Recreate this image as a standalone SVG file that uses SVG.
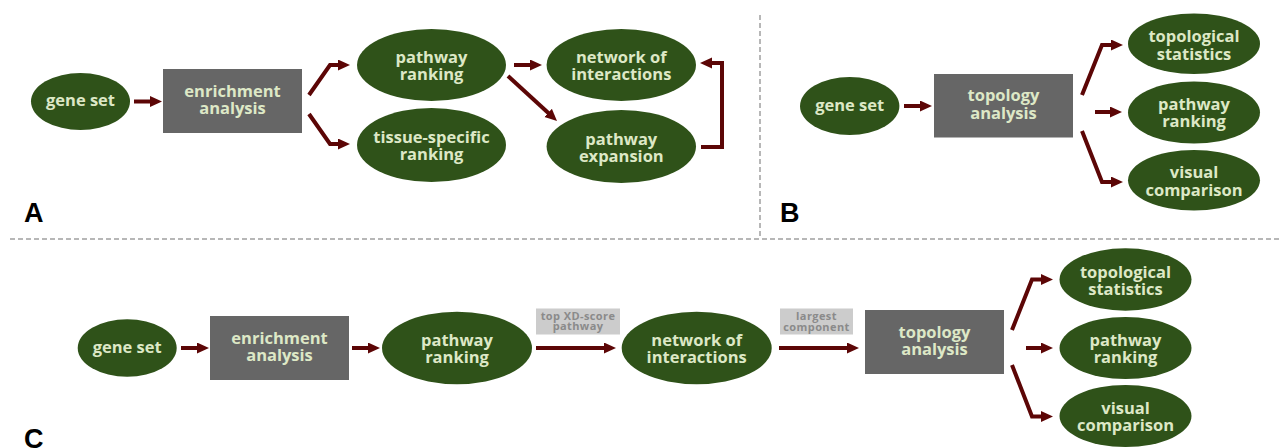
<svg xmlns="http://www.w3.org/2000/svg" width="1282" height="448" viewBox="0 0 1282 448">
<defs>
<marker id="ah" markerUnits="userSpaceOnUse" markerWidth="14" markerHeight="12" refX="1" refY="5.5" orient="auto">
<path d="M0,0 L12,5.5 L0,11 Z" fill="#5c0606"/>
</marker>
<style>
.el{fill:#2f5219}
.bx{fill:#666666}
.t{font-family:"Open Sans","Noto Sans",sans-serif;font-weight:700;font-size:16.5px;fill:#dde8c6;text-anchor:middle}
.lb{fill:#cccccc}
.lt{font-family:"Open Sans","Noto Sans",sans-serif;font-weight:700;font-size:11px;letter-spacing:0.4px;fill:#8a8a8a;text-anchor:middle}
.c{fill:none;stroke:#5c0606;stroke-width:4;marker-end:url(#ah)}
.sep{fill:none;stroke:#a0a0a0;stroke-width:1.5;stroke-dasharray:5,3}
.pl{font-family:"Liberation Sans",Arial,sans-serif;font-weight:700;font-size:27px;fill:#000}
</style>
</defs>
<rect width="1282" height="448" fill="#ffffff"/>
<g id="separators">
<path class="sep" d="M10,239 H1280"/>
<path class="sep" d="M760,15 V239"/>
</g>
<g id="panel-labels">
<text class="pl" x="24" y="222">A</text>
<text class="pl" x="780" y="222">B</text>
<text class="pl" x="24" y="448">C</text>
</g>
<g id="connectors">
<path class="c" d="M134,101.5 H151"/>
<path class="c" d="M309,95 L330,65 H339"/>
<path class="c" d="M309,114 L330,144 H339"/>
<path class="c" d="M514,65 H531"/>
<path class="c" d="M508,76 L548.9,113.5"/>
<path class="c" d="M701,147 H722 V63 H711"/>
<path class="c" d="M904,106 H921"/>
<path class="c" d="M1082,95 L1102,45 H1112"/>
<path class="c" d="M1095,112 H1111"/>
<path class="c" d="M1082,131 L1102,182 H1112"/>
<path class="c" d="M181,348 H198"/>
<path class="c" d="M352,348 H369"/>
<path class="c" d="M536,348 H605"/>
<path class="c" d="M779,348 H848"/>
<path class="c" d="M1012,330 L1032,279.5 H1042"/>
<path class="c" d="M1026,348 H1042"/>
<path class="c" d="M1012,365 L1032,416.5 H1042"/>
</g>
<g id="edge-labels">
<g id="label-top-xd">
<rect class="lb" x="536" y="308.5" width="84" height="26"/>
<text class="lt" x="578" y="319.5">top XD-score</text>
<text class="lt" x="578" y="330">pathway</text>
</g>
<g id="label-largest">
<rect class="lb" x="780" y="308.5" width="73" height="26"/>
<text class="lt" x="816.5" y="319.5">largest</text>
<text class="lt" x="816.5" y="330.5">component</text>
</g>
</g>
<g id="A-gene-set"><ellipse class="el" cx="80.5" cy="101.5" rx="49.5" ry="28.5"/><text class="t" x="80.5" y="106">gene set</text></g>
<g id="A-enrichment"><rect class="bx" x="163" y="69" width="139" height="64"/><text class="t" x="232.5" y="96.5">enrichment</text><text class="t" x="232.5" y="114">analysis</text></g>
<g id="A-pathway-ranking"><ellipse class="el" cx="431.5" cy="65" rx="74.5" ry="36"/><text class="t" x="431.5" y="62.5">pathway</text><text class="t" x="431.5" y="79.5">ranking</text></g>
<g id="A-tissue"><ellipse class="el" cx="431.5" cy="145" rx="74.5" ry="37"/><text class="t" x="431.5" y="142.5">tissue-specific</text><text class="t" x="431.5" y="159.5">ranking</text></g>
<g id="A-network"><ellipse class="el" cx="621.3" cy="65" rx="74.7" ry="36"/><text class="t" x="621.3" y="62.5">network of</text><text class="t" x="621.3" y="80">interactions</text></g>
<g id="A-expansion"><ellipse class="el" cx="621.3" cy="146.5" rx="74.7" ry="36.5"/><text class="t" x="621.3" y="144.5">pathway</text><text class="t" x="621.3" y="162">expansion</text></g>
<g id="B-gene-set"><ellipse class="el" cx="849.7" cy="106" rx="49.7" ry="29"/><text class="t" x="849.7" y="110.5">gene set</text></g>
<g id="B-topology"><rect class="bx" x="934" y="74" width="139" height="63.5"/><text class="t" x="1003.5" y="101">topology</text><text class="t" x="1003.5" y="118.5">analysis</text></g>
<g id="B-topo-stats"><ellipse class="el" cx="1194" cy="43.7" rx="66" ry="30.3"/><text class="t" x="1194" y="42">topological</text><text class="t" x="1194" y="59.5">statistics</text></g>
<g id="B-pathway-ranking"><ellipse class="el" cx="1194" cy="112.5" rx="66" ry="31"/><text class="t" x="1194" y="110">pathway</text><text class="t" x="1194" y="127">ranking</text></g>
<g id="B-visual"><ellipse class="el" cx="1194" cy="180.3" rx="66" ry="30.3"/><text class="t" x="1194" y="178">visual</text><text class="t" x="1194" y="195.5">comparison</text></g>
<g id="C-gene-set"><ellipse class="el" cx="127.2" cy="348" rx="49.5" ry="28.7"/><text class="t" x="127.2" y="352.5">gene set</text></g>
<g id="C-enrichment"><rect class="bx" x="210" y="316" width="139" height="64"/><text class="t" x="279.5" y="343.5">enrichment</text><text class="t" x="279.5" y="361">analysis</text></g>
<g id="C-pathway-ranking"><ellipse class="el" cx="457" cy="348" rx="75" ry="36.2"/><text class="t" x="457" y="345.5">pathway</text><text class="t" x="457" y="362.5">ranking</text></g>
<g id="C-network"><ellipse class="el" cx="696.7" cy="348" rx="75" ry="36.2"/><text class="t" x="696.7" y="345.5">network of</text><text class="t" x="696.7" y="363">interactions</text></g>
<g id="C-topology"><rect class="bx" x="865" y="310" width="139" height="64"/><text class="t" x="934.5" y="337.5">topology</text><text class="t" x="934.5" y="355">analysis</text></g>
<g id="C-topo-stats"><ellipse class="el" cx="1125.5" cy="279.5" rx="66" ry="31.2"/><text class="t" x="1125.5" y="277.5">topological</text><text class="t" x="1125.5" y="295">statistics</text></g>
<g id="C-pathway-ranking"><ellipse class="el" cx="1125.5" cy="348" rx="66" ry="31"/><text class="t" x="1125.5" y="345.5">pathway</text><text class="t" x="1125.5" y="362.5">ranking</text></g>
<g id="C-visual"><ellipse class="el" cx="1125.5" cy="416" rx="66" ry="31"/><text class="t" x="1125.5" y="413.5">visual</text><text class="t" x="1125.5" y="431">comparison</text></g>
</svg>
